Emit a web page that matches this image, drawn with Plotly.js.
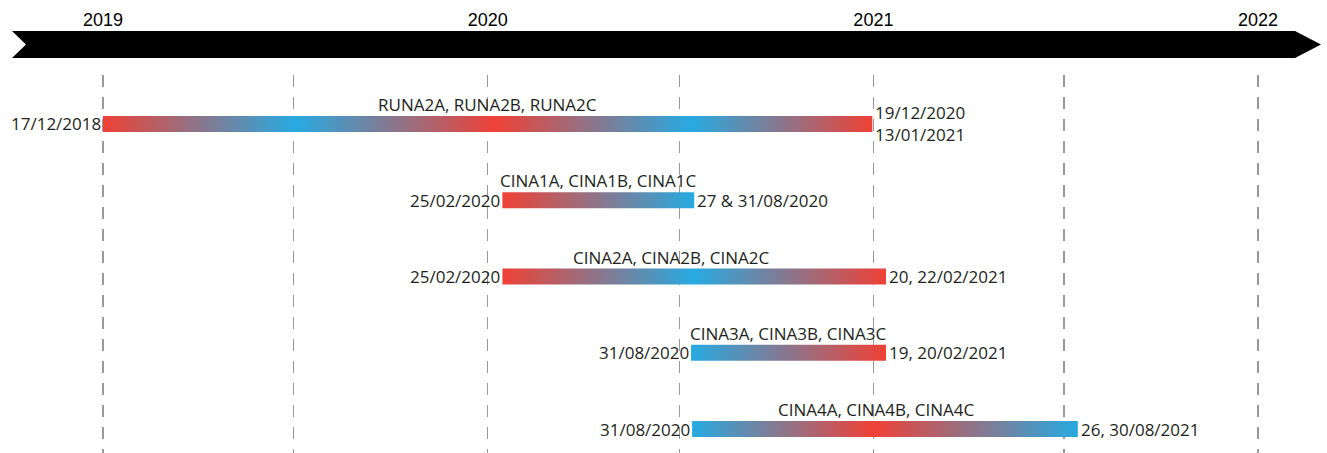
<!DOCTYPE html>
<html><head><meta charset="utf-8">
<script src="https://cdn.plot.ly/plotly-3.0.1.min.js"></script>
<style>html,body{margin:0;padding:0;background:#fff}#chart{width:1327px;height:453px}</style>
</head><body><div id="chart"></div>
<script>
// ---- data ----
const sampleNames = ['RUNA2A, RUNA2B, RUNA2C', 'CINA1A, CINA1B, CINA1C', 'CINA2A, CINA2B, CINA2C', 'CINA3A, CINA3B, CINA3C', 'CINA4A, CINA4B, CINA4C'];
const barStart = ['2019-01-01', '2020-01-15', '2020-01-15', '2020-07-12', '2020-07-13'];
const barEnd = ['2020-12-31', '2020-07-15', '2021-01-13', '2021-01-13', '2021-07-14'];
const startLabels = ['17/12/2018', '25/02/2020', '25/02/2020', '31/08/2020', '31/08/2020'];
const endLabels = ['19/12/2020<br>13/01/2021', '27 & 31/08/2020', '20, 22/02/2021', '19, 20/02/2021', '26, 30/08/2021'];
// gradient colour sequence along each bar (W = winter red, S = summer blue) and where each stop sits
const seasonSeq = [['W','S','W','S','W'], ['W','S'], ['W','S','W'], ['S','W'], ['S','W','S']];
const seasonPos = [[0,0.25,0.51,0.765,1], [0,1], [0,0.5,1], [0,1], [0,0.47,1]];
const yearTicks = ['2019', '2020', '2021', '2022'];

// ---- styling ----
const RED = '#ef4136', BLUE = '#27aae1', TXT = '#231f20';
const W = 1327, H = 453;
const labelFont = {family: 'Open Sans, sans-serif', size: 17, color: TXT};
const titleShift = [0, 0, -23, 0, -8];
const halfH = 0.105;

function toStr(ms){ return new Date(ms).toISOString().slice(0,19).replace('T',' '); }

const traces = [];
const annotations = [];
sampleNames.forEach((name, i) => {
  const s = barStart[i], e = barEnd[i];
  traces.push({
    type: 'scatter', mode: 'none', fill: 'toself', hoverinfo: 'skip', showlegend: false,
    x: [s, e, e, s, s],
    y: [i - halfH, i - halfH, i + halfH, i + halfH, i - halfH],
    fillgradient: {
      type: 'horizontal',
      colorscale: seasonSeq[i].map((c, k) => [seasonPos[i][k], c === 'W' ? RED : BLUE])
    }
  });
  annotations.push({x: s, y: i, xref: 'x', yref: 'y', text: startLabels[i], showarrow: false,
    xanchor: 'right', yanchor: 'middle', xshift: 0, font: labelFont});
  annotations.push({x: e, y: i, xref: 'x', yref: 'y', text: endLabels[i], showarrow: false,
    xanchor: 'left', yanchor: 'middle', xshift: 2, align: 'left', borderpad: 0, font: labelFont});
  const mid = (Date.parse(s + 'T00:00:00Z') + Date.parse(e + 'T00:00:00Z')) / 2;
  annotations.push({x: toStr(mid), y: i, xref: 'x', yref: 'y', text: name, showarrow: false,
    xanchor: 'center', yanchor: 'bottom', yshift: 6, xshift: titleShift[i], font: labelFont});
});

function P(x, y){ return (x / W).toFixed(5) + ',' + (1 - y / H).toFixed(5); }
const arrowPath = 'M' + P(12,31) + ' L' + P(1295,31) + ' L' + P(1321,44.5) + ' L' + P(1295,58) +
  ' L' + P(12,58) + ' L' + P(26,44.5) + ' Z';

const layout = {
  width: W, height: H,
  margin: {l: 0, r: 0, t: 0, b: 0},
  paper_bgcolor: '#fff', plot_bgcolor: '#fff',
  showlegend: false,
  xaxis: {
    type: 'date', range: ['2018-09-25 07:00', '2022-03-07 10:00'],
    side: 'top', tickmode: 'array',
    tickvals: yearTicks.map(y => y + '-01-01'), ticktext: yearTicks,
    ticks: '', showline: false, zeroline: false, ticklabelstandoff: 44,
    tickfont: {family: 'Liberation Sans, Arial, sans-serif', size: 18, color: '#000'},
    showgrid: true, gridcolor: '#9a9a9a', gridwidth: 1.3, griddash: '12px,10px',
    minor: {dtick: 'M6', tick0: '2019-01-01', showgrid: true, gridcolor: '#9a9a9a', gridwidth: 1.3, griddash: '12px,10px'},
    fixedrange: true
  },
  yaxis: {
    domain: [0, (H - 75) / H], range: [4.3148, -0.6426], visible: false,
    showgrid: false, zeroline: false, fixedrange: true
  },
  shapes: [{type: 'path', xref: 'paper', yref: 'paper', path: arrowPath,
    fillcolor: '#000', line: {width: 0}, layer: 'above'}],
  annotations: annotations
};

Plotly.newPlot('chart', traces, layout, {staticPlot: true, displayModeBar: false});
</script>
</body></html>
